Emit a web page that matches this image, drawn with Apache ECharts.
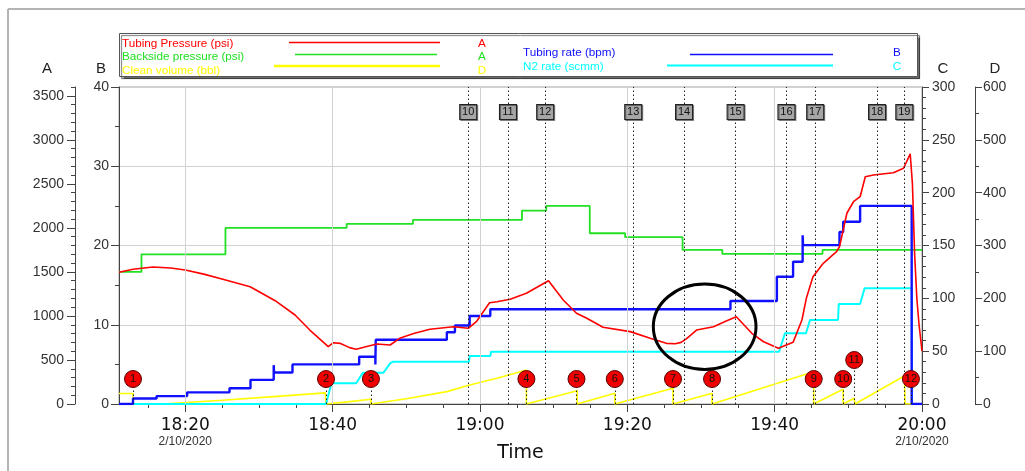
<!DOCTYPE html>
<html><head><meta charset="utf-8">
<script src="https://cdn.jsdelivr.net/npm/echarts@6/dist/echarts.min.js"></script>
<style>html,body{margin:0;padding:0;background:#fff}#c{width:1025px;height:471px}</style>
</head><body><div id="c"></div>
<script>
// Times are minutes after 18:00 on 2/10/2020
const tubingPressureTime = [11.0, 12.9, 15.6, 18.0, 20.0, 22.5, 25.1, 28.8, 32.2, 34.9, 36.9, 38.5, 39.4, 40.1, 41.0, 42.3, 43.2, 44.5, 46.0, 47.8, 49.1, 51.0, 53.2, 56.4, 58.4, 59.5, 61.3, 62.3, 64.1, 66.3, 69.3, 71.3, 73.1, 74.5, 76.7, 80.4, 83.1, 85.3, 86.5, 87.3, 88.0, 89.4, 91.7, 93.5, 94.8, 96.9, 98.5, 100.5, 102.5, 103.7, 104.3, 105.2, 106.6, 108.4, 108.8, 109.8, 110.7, 111.6, 112.3, 113.4, 116.1, 117.5, 118.4, 118.7, 119.0, 119.3, 119.6, 120.0];
const tubingPressure = [1496, 1530, 1556, 1545, 1522, 1475, 1416, 1332, 1173, 1011, 840, 720, 651, 696, 689, 640, 621, 650, 681, 670, 746, 800, 848, 878, 860, 935, 1150, 1162, 1189, 1257, 1400, 1181, 1030, 973, 871, 822, 746, 689, 685, 700, 740, 840, 878, 946, 991, 803, 707, 632, 700, 954, 1200, 1446, 1598, 1730, 1786, 2166, 2297, 2354, 2581, 2601, 2627, 2677, 2840, 2500, 1700, 1200, 900, 600];

const backsideTime = [11.0, 14.05, 25.45, 41.9, 50.9, 65.7, 69.0, 74.9, 79.7, 87.5, 92.9, 106.5, 120.0];
const backsidePressure = [1500, 1700, 2000, 2045, 2090, 2196, 2249, 1939, 1894, 1750, 1704, 1750, 1750];

const cleanVolumeTime = [11.0, 12.9, 12.9, 17.5, 25.0, 32.0, 39.0, 39.1, 42.0, 45.2, 45.2, 50.0, 55.5, 58.6, 62.3, 66.3, 66.3, 73.2, 73.2, 78.3, 78.3, 86.2, 86.2, 91.5, 91.5, 105.3, 105.3, 109.3, 109.3, 110.8, 110.9, 117.6, 117.7, 120.0];
const cleanVolume = [20, 20, 0, 0.5, 7, 14, 21, 0, 4, 9, 0, 10, 23.4, 36, 48.6, 64.4, 0, 25.2, 0, 20.2, 0, 29.7, 0, 20.2, 0, 61.2, 0, 28, 0, 11, 0, 53, 0, 0];

const tubingRateTime = [11.0, 12.9, 16.1, 20.25, 26.0, 28.85, 32.0, 32.05, 34.55, 43.6, 45.8, 45.85, 55.5, 56.6, 58.6, 61.4, 94.0, 100.3, 102.5, 103.8, 103.85, 108.8, 109.3, 111.6, 118.6, 120.0];
const tubingRate = [0, 0.7, 1.0, 1.47, 1.98, 3.05, 4.9, 3.98, 5.0, 5.97, 5.0, 8.1, 9.05, 9.9, 11.1, 11.95, 13.0, 16.05, 17.95, 21.3, 20.05, 21.7, 23.0, 25.0, 0, 0];

const n2RateTime = [11.0, 39.1, 39.85, 43.2, 44.1, 46.9, 47.8, 48.2, 58.5, 58.6, 61.4, 61.5, 100.6, 101.4, 104.25, 104.8, 108.6, 108.7, 111.6, 112.2, 118.6, 118.65, 120.0];
const n2Rate = [0, 0, 19.6, 19.6, 29.6, 29.6, 38.5, 40, 40, 45.4, 45.4, 49.5, 49.5, 66.9, 66.9, 79.5, 79.5, 94.6, 94.6, 109.5, 109.5, 0, 0];

// Stage markers (grey boxes) and event markers (red circles)
const stageLabels = ['10', '11', '12', '13', '14', '15', '16', '17', '18', '19'];
const stageTimes = [58.4, 63.8, 68.85, 80.8, 87.7, 94.7, 101.6, 105.5, 113.9, 117.6];
const stageLevel = 36.85; // on B scale
const eventLabels = ['1', '2', '3', '4', '5', '6', '7', '8', '9', '10', '11', '12'];
const eventTimes = [12.9, 39.1, 45.2, 66.3, 73.1, 78.3, 86.2, 91.5, 105.3, 109.3, 110.8, 118.5];
const eventLevels = [3.15, 3.15, 3.15, 3.15, 3.15, 3.15, 3.15, 3.15, 3.15, 3.15, 5.55, 3.15];

// Highlight ellipse: centre time, centre B, half-width (min), half-height (B)
const highlight = [90.5, 9.75, 6.97, 5.39];

// Axis ticks
const timeLabelValues = [20, 40, 60, 80, 100, 120];
const timeTickValues = [15, 20, 25, 30, 35, 40, 45, 50, 55, 60, 65, 70, 75, 80, 85, 90, 95, 100, 105, 110, 115, 120];
const gridTimes = [20, 40, 60, 80, 100];
const dateTickValues = [20, 120];
const dateText = '2/10/2020';
const axisAMajor = [0, 500, 1000, 1500, 2000, 2500, 3000, 3500];

// Legend
const legendNames = ['Tubing Pressure (psi)', 'Backside pressure (psi)', 'Clean volume (bbl)', 'Tubing rate (bpm)', 'N2 rate (scmm)'];
const legendAxis = ['A', 'A', 'D', 'B', 'C'];
const colors = ['#ff0000', '#22e022', '#ffff00', '#1010ff', '#00ffff'];

const pairs = (xs, ys) => xs.map((x, i) => [x, ys[i]]);
const F = 'Liberation Sans, Arial, sans-serif';

function fmtTime(v) {
  const m = Math.round(v);
  const h = 18 + Math.floor(m / 60);
  const mm = m % 60;
  return h + ':' + (mm < 10 ? '0' : '') + mm;
}

// legend layout (pixels)
const legRows = [
  {tx: 122, ty: 43.5, lx1: 289, lx2: 440, ly: 42.5, ax: 482, lw: 1.5},
  {tx: 122, ty: 56.5, lx1: 295, lx2: 437, ly: 54.5, ax: 482, lw: 1.5},
  {tx: 122, ty: 70.5, lx1: 274, lx2: 440, ly: 66, ax: 482, lw: 2.5},
  {tx: 523, ty: 53, lx1: 690, lx2: 833, ly: 54.5, ax: 897, lw: 1.5},
  {tx: 523, ty: 66.5, lx1: 667, lx2: 833, ly: 65.5, ax: 897, lw: 2}
];
const graphic = [
  {type: 'line', shape: {x1: 8, y1: 9, x2: 1025, y2: 9}, style: {stroke: '#b4b4b4', lineWidth: 2}, silent: true},
  {type: 'line', shape: {x1: 8, y1: 9, x2: 8, y2: 471}, style: {stroke: '#b4b4b4', lineWidth: 2}, silent: true},
  {type: 'rect', shape: {x: 119.5, y: 33.5, width: 798, height: 43}, style: {fill: '#fff', stroke: '#555', lineWidth: 1, shadowColor: 'rgba(0,0,0,0.55)', shadowOffsetX: 2, shadowOffsetY: 2, shadowBlur: 1}, silent: true}
];
legendNames.forEach((n, i) => {
  const r = legRows[i];
  graphic.push({type: 'text', x: r.tx, y: r.ty, style: {text: n, fill: colors[i], fontSize: 11.7, fontFamily: F, verticalAlign: 'middle', align: 'left'}, silent: true});
  graphic.push({type: 'line', shape: {x1: r.lx1, y1: r.ly, x2: r.lx2, y2: r.ly}, style: {stroke: colors[i], lineWidth: r.lw}, silent: true});
  graphic.push({type: 'text', x: r.ax, y: r.ty, style: {text: legendAxis[i], fill: colors[i], fontSize: 11.7, fontFamily: F, verticalAlign: 'middle', align: 'center'}, silent: true});
});

const yName = (name, pad) => ({
  name: name, nameLocation: 'end', nameGap: 18, nameMoveOverlap: false,
  nameTextStyle: {fontSize: 15, color: '#222', fontFamily: F, align: 'center', verticalAlign: 'middle', padding: pad}
});
const tickStyle = {color: '#444', width: 1};
const labelStyle = {fontSize: 14, color: '#333', fontFamily: F};

const option = {
  animation: false,
  backgroundColor: '#fff',
  graphic: graphic,
  grid: {left: 119, right: 103, top: 87, bottom: 67, show: true, borderColor: '#a0a0a0', borderWidth: 1, containLabel: false, outerBoundsMode: 'none'},
  xAxis: [
    {
      type: 'value', min: 11, max: 120, position: 'bottom',
      name: 'Time', nameLocation: 'middle', nameGap: 49, nameMoveOverlap: false,
      nameTextStyle: {fontSize: 19, color: '#111', fontFamily: 'DejaVu Sans', verticalAlign: 'middle'},
      axisLine: {onZero: false, lineStyle: {color: '#444', width: 1}},
      axisTick: {show: true, customValues: timeTickValues, length: 4, lineStyle: tickStyle},
      axisLabel: {
        customValues: timeLabelValues, margin: 13,
        formatter: v => '{t|' + fmtTime(v) + '}' + (dateTickValues.indexOf(Math.round(v)) >= 0 ? '\n{d|' + dateText + '}' : ''),
        rich: {
          t: {fontSize: 17, fontFamily: 'DejaVu Sans', color: '#111', lineHeight: 18},
          d: {fontSize: 12, fontFamily: F, color: '#333', lineHeight: 13}
        }
      },
      splitLine: {show: false}
    },
    {
      type: 'value', min: 11, max: 120, position: 'bottom',
      axisLine: {show: false, onZero: false}, axisLabel: {show: false}, splitLine: {show: false},
      axisTick: {show: true, customValues: timeLabelValues, length: 8, lineStyle: tickStyle}
    }
  ],
  yAxis: [
    Object.assign({ // B
      type: 'value', position: 'left', offset: 0, min: 0, max: 40, interval: 10,
      axisLine: {show: true, onZero: false, lineStyle: {color: '#444'}},
      axisTick: {show: true, length: 8, lineStyle: tickStyle},
      minorTick: {show: true, splitNumber: 2, length: 4, lineStyle: tickStyle},
      axisLabel: Object.assign({margin: 10}, labelStyle),
      splitLine: {show: true, lineStyle: {color: '#d2d2d2', width: 1}}
    }, yName('B', [0, 36, 0, 0])),
    Object.assign({ // A
      type: 'value', position: 'left', offset: 44, min: 0, max: 3600, interval: 100,
      axisLine: {show: true, onZero: false, lineStyle: {color: '#444'}},
      axisTick: {show: true, length: 4, lineStyle: tickStyle},
      axisLabel: Object.assign({margin: 11, formatter: v => (v % 500 === 0 && v <= 3500) ? String(v) : ''}, labelStyle),
      splitLine: {show: false}
    }, yName('A', [0, 56, 0, 0])),
    { // A major ticks
      type: 'value', position: 'left', offset: 44, min: 0, max: 3600,
      axisLine: {show: false, onZero: false}, axisLabel: {show: false}, splitLine: {show: false},
      axisTick: {show: true, customValues: axisAMajor, length: 8, lineStyle: tickStyle}
    },
    Object.assign({ // C
      type: 'value', position: 'right', offset: 0, min: 0, max: 300, interval: 50,
      axisLine: {show: true, onZero: false, lineStyle: {color: '#444'}},
      axisTick: {show: true, length: 7, lineStyle: tickStyle},
      minorTick: {show: true, splitNumber: 5, length: 4, lineStyle: tickStyle},
      axisLabel: Object.assign({margin: 10}, labelStyle),
      splitLine: {show: false}
    }, yName('C', [0, 0, 0, 42])),
    Object.assign({ // D
      type: 'value', position: 'right', offset: 53, min: 0, max: 600, interval: 100,
      axisLine: {show: true, onZero: false, lineStyle: {color: '#444'}},
      axisTick: {show: true, length: 7, lineStyle: tickStyle},
      minorTick: {show: true, splitNumber: 2, length: 4, lineStyle: tickStyle},
      axisLabel: Object.assign({margin: 8}, labelStyle),
      splitLine: {show: false}
    }, yName('D', [0, 0, 0, 40]))
  ],
  series: [
    {
      name: legendNames[2], type: 'line', xAxisIndex: 0, yAxisIndex: 4, data: pairs(cleanVolumeTime, cleanVolume),
      showSymbol: false, symbol: 'none', lineStyle: {color: colors[2], width: 1.6}, itemStyle: {color: colors[2]},
      markLine: {silent: true, symbol: 'none', label: {show: false},
        lineStyle: {color: '#d2d2d2', type: 'solid', width: 1},
        data: gridTimes.map(t => ({xAxis: t}))}
    },
    {
      name: legendNames[1], type: 'line', xAxisIndex: 0, yAxisIndex: 1, step: 'end', data: pairs(backsideTime, backsidePressure),
      showSymbol: false, symbol: 'none', lineStyle: {color: colors[1], width: 1.8}, itemStyle: {color: colors[1]}
    },
    {
      name: legendNames[4], type: 'line', xAxisIndex: 0, yAxisIndex: 3, data: pairs(n2RateTime, n2Rate),
      showSymbol: false, symbol: 'none', lineStyle: {color: colors[4], width: 2}, itemStyle: {color: colors[4]}
    },
    {
      name: legendNames[3], type: 'line', xAxisIndex: 0, yAxisIndex: 0, step: 'end', data: pairs(tubingRateTime, tubingRate),
      showSymbol: false, symbol: 'none', lineStyle: {color: colors[3], width: 2.4}, itemStyle: {color: colors[3]},
      markLine: {silent: true, symbol: 'none', label: {show: false},
        lineStyle: {color: '#222', type: [1.5, 2.5], width: 1},
        data: stageTimes.map(t => ({xAxis: t})).concat(
          eventTimes.map((t, i) => [{coord: [t, 0]}, {coord: [t, eventLevels[i]]}]))}
    },
    {
      name: legendNames[0], type: 'line', xAxisIndex: 0, yAxisIndex: 1, data: pairs(tubingPressureTime, tubingPressure),
      showSymbol: false, symbol: 'none', lineStyle: {color: colors[0], width: 1.6}, itemStyle: {color: colors[0]}
    },
    {
      name: 'Stages', type: 'scatter', xAxisIndex: 0, yAxisIndex: 0, z: 6,
      data: stageTimes.map((t, i) => [t, stageLevel, stageLabels[i]]),
      symbol: 'rect', symbolSize: [17, 15],
      itemStyle: {color: '#a6a6a6', borderColor: '#222', borderWidth: 1, shadowColor: 'rgba(0,0,0,0.4)', shadowOffsetX: 1, shadowOffsetY: 1, opacity: 1},
      label: {show: true, position: 'inside', formatter: p => p.data[2], fontSize: 11, color: '#111', fontFamily: F}
    },
    {
      name: 'Events', type: 'scatter', xAxisIndex: 0, yAxisIndex: 0, z: 6,
      data: eventTimes.map((t, i) => [t, eventLevels[i], eventLabels[i]]),
      symbol: 'circle', symbolSize: 17,
      itemStyle: {color: '#f00000', borderColor: '#5a0000', borderWidth: 1, opacity: 1},
      label: {show: true, position: 'inside', formatter: p => p.data[2], fontSize: 11, color: '#111', fontFamily: F}
    },
    {
      name: 'Highlight', type: 'custom', xAxisIndex: 0, yAxisIndex: 0, z: 7, silent: true,
      data: [highlight],
      renderItem: (params, api) => {
        const c = api.coord([api.value(0), api.value(1)]);
        const s = api.size([api.value(2), api.value(3)]);
        return {type: 'ellipse', shape: {cx: c[0], cy: c[1], rx: s[0], ry: s[1]}, style: {fill: 'none', stroke: '#000', lineWidth: 3}};
      }
    }
  ]
};
const chart = echarts.init(document.getElementById('c'), null, {renderer: 'canvas'});
chart.setOption(option);
</script>
</body></html>
